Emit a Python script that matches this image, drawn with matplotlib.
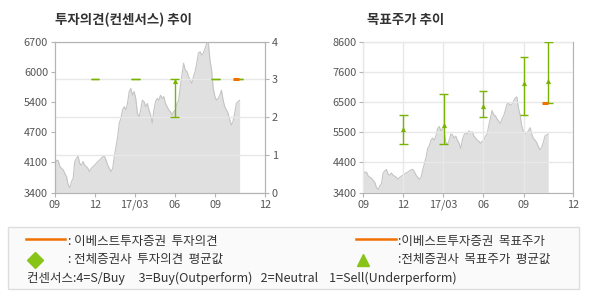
import numpy as np
import pandas as pd
import matplotlib
matplotlib.use('agg')
import matplotlib.pyplot as plt
from matplotlib.patches import Rectangle
from matplotlib.lines import Line2D

plt.rcParams['font.family'] = ['Noto Sans CJK KR', 'DejaVu Sans']

# close price (roughly every 3-4 days)
price = [4005, 4110, 4100, 3970, 3930, 3900, 3820, 3750, 3570, 3510, 3640, 3710,
         4080, 4150, 4200, 4040, 4000, 4080, 4000, 3970, 3930, 3860, 3930, 3970,
         4000, 4040, 4080, 4110, 4150, 4190, 4200, 4110, 4000, 3930, 3860, 3930,
         4190, 4400, 4620, 4920, 5030, 5210, 5280, 5210, 5350, 5610, 5680, 5530,
         5610, 5460, 5130, 5060, 5210, 5420, 5390, 5280, 5350, 5210, 5100, 4920,
         5210, 5390, 5460, 5420, 5530, 5460, 5500, 5350, 5280, 5210, 5170, 5100,
         5170, 5210, 5350, 5420, 5720, 5970, 6230, 6080, 6050, 5940, 5860, 5790,
         5940, 6050, 6230, 6450, 6480, 6410, 6450, 6550, 6660, 6700, 6300, 6080,
         5680, 5500, 5420, 5460, 5530, 5640, 5420, 5280, 5210, 5130, 4990, 4880,
         4950, 5130, 5350, 5390, 5420]
price_start = '2016-09-01'
price_end = '2017-10-26'

# 투자의견 (consensus) events
op_dates = ['2016-12-01', '2017-03-03', '2017-05-31', '2017-09-01', '2017-10-24']
op_high = [3, 3, 3, 3, 3]
op_low = [3, 3, 2, 3, 3]
op_avg = [np.nan, np.nan, 2.96, np.nan, np.nan]
ebest_op_date = ['2017-10-17']
ebest_op = [3]

# 목표주가 events
tp_dates = ['2016-12-01', '2017-03-03', '2017-05-31', '2017-09-01', '2017-10-26']
tp_high = [6060, 6790, 6890, 8080, 8600]
tp_low = [5060, 5060, 5990, 6060, 6480]
tp_avg = [5600, 5730, 6390, 7190, 7260]
ebest_tp_date = ['2017-10-18']
ebest_tp = [6500]

month_ticks = ['2016-09-01', '2016-12-01', '2017-03-01', '2017-06-01', '2017-09-01', '2017-12-22']
month_labels = ['09', '12', '17/03', '06', '09', '12']
left_labels = ['3400', '4100', '4700', '5400', '6000', '6700']
right_labels = ['3400', '4400', '5500', '6500', '7600', '8600']

GREEN = '#78b400'
ORANGE = '#f07000'
GRID = '#e8e8e8'
SPINE = '#b4b4b4'
TICKC = '#555555'

dates = pd.date_range(price_start, price_end, periods=len(price))
half_cap = pd.Timedelta(days=10)
half_dash = pd.Timedelta(days=7)


def style_axes(ax):
    for s in ax.spines.values():
        s.set_color(SPINE)
    ax.tick_params(colors=SPINE, labelcolor=TICKC, labelsize=7.8, length=3, pad=2)
    ax.set_xlim(pd.Timestamp(month_ticks[0]), pd.Timestamp(month_ticks[-1]))
    ax.set_xticks(pd.to_datetime(month_ticks))
    ax.set_xticklabels(month_labels)


def draw_price(ax, lo, hi, labels):
    ax.fill_between(dates, lo, price, color='#e0e0e0', lw=0, zorder=1)
    ax.plot(dates, price, color='#c4c4c4', lw=0.8, zorder=2)
    ax.set_ylim(lo, hi)
    ax.set_yticks(np.linspace(lo, hi, len(labels)))
    ax.set_yticklabels(labels)
    style_axes(ax)


def draw_bars(ax, d, low, high, avg):
    d = pd.to_datetime(d)
    ax.vlines(d, low, high, color=GREEN, lw=1.0, zorder=4)
    ax.hlines(low, d - half_cap, d + half_cap, color=GREEN, lw=1.0, zorder=4)
    ax.hlines(high, d - half_cap, d + half_cap, color=GREEN, lw=1.0, zorder=4)
    ax.scatter(d, avg, marker='^', s=14, color=GREEN, lw=0, zorder=5)


fig = plt.figure(figsize=(5.9, 3.0), dpi=100)

# left: 투자의견 추이
ax1 = fig.add_axes([0.0932, 0.3577, 0.3554, 0.5033])
draw_price(ax1, 3400, 6700, left_labels)
ax1b = ax1.twinx()
ax1b.set_ylim(0, 4)
ax1b.set_yticks([0, 1, 2, 3, 4])
style_axes(ax1b)
ax1b.grid(True, color=GRID, lw=1.0, zorder=3)
draw_bars(ax1b, op_dates, op_low, op_high, op_avg)
d = pd.to_datetime(ebest_op_date)
ax1b.hlines(ebest_op, d - half_dash, d + half_dash, color=ORANGE, lw=2.2, zorder=6)
fig.text(0.0932, 0.932, '투자의견(컨센서스) 추이', fontsize=9.7, fontweight='bold',
         color='#333333', va='center')

# right: 목표주가 추이
ax2 = fig.add_axes([0.6158, 0.3577, 0.3559, 0.5033])
draw_price(ax2, 3400, 8600, right_labels)
ax2.set_axisbelow(False)
ax2.grid(True, color=GRID, lw=1.0, zorder=3)
draw_bars(ax2, tp_dates, tp_low, tp_high, tp_avg)
d = pd.to_datetime(ebest_tp_date)
ax2.hlines(ebest_tp, d - half_dash, d + half_dash, color=ORANGE, lw=2.2, zorder=6)
fig.text(0.6215, 0.932, '목표주가 추이', fontsize=9.7, fontweight='bold',
         color='#333333', va='center')

# legend box at the bottom
fig.patches.append(Rectangle((0.0136, 0.0367), 0.968, 0.205, transform=fig.transFigure,
                             facecolor='#fafafa', edgecolor='#dddddd', lw=1.0))
lc = '#333333'
fs = 9.0
y1, y2, y3 = 0.196, 0.134, 0.073
fig.add_artist(Line2D([0.044, 0.110], [0.203, 0.203], color=ORANGE, lw=1.8, transform=fig.transFigure))
fig.text(0.115, y1, ': 이베스트투자증권  투자의견', fontsize=fs, color=lc, va='center')
fig.add_artist(Line2D([0.059], [y2], marker='D', ms=8, color='#88c418', lw=0,
                      transform=fig.transFigure))
fig.text(0.115, y2, ': 전체증권사  투자의견  평균값', fontsize=fs, color=lc, va='center')
fig.text(0.045, y3, '컨센서스:4=S/Buy     3=Buy(Outperform)   2=Neutral    1=Sell(Underperform)',
         fontsize=9.0, color=lc, va='center')
fig.add_artist(Line2D([0.603, 0.671], [0.203, 0.203], color=ORANGE, lw=1.8, transform=fig.transFigure))
fig.text(0.674, y1, ':이베스트투자증권  목표주가', fontsize=fs, color=lc, va='center')
fig.add_artist(Line2D([0.615], [y2 - 0.002], marker='^', ms=8, color='#88c418', lw=0,
                      transform=fig.transFigure))
fig.text(0.674, y2, ':전체증권사  목표주가  평균값', fontsize=fs, color=lc, va='center')

fig.savefig('out.png', dpi=100)
